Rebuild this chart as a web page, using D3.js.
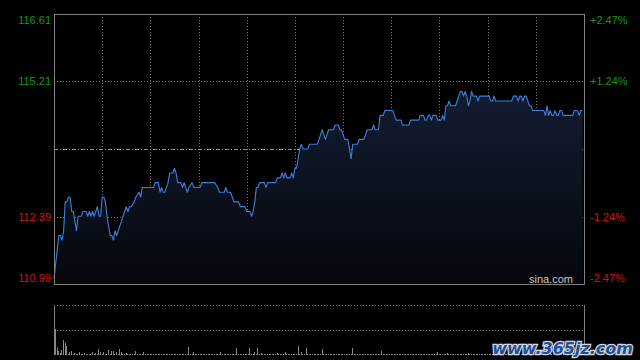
<!DOCTYPE html>
<html><head><meta charset="utf-8">
<script src="https://cdn.jsdelivr.net/npm/d3@7/dist/d3.min.js"></script>
<style>html,body{margin:0;padding:0;background:#000;}svg{display:block;}</style>
</head><body><svg id="c" width="640" height="360"></svg>
<script>
// ---- data (HK intraday, minutes since 09:30, 330 trading minutes) ----
const prevClose = 113.80;
const priceTicks = [116.61, 115.21, 113.80, 112.39, 110.99];
const pctTicks = ["+2.47%", "+1.24%", "", "-1.24%", "-2.47%"];
const minutes = [0,2,3,4,5,6,7,8,9,10,11,12,13,14,15,17,18,20,21,22,23,24,25,26,27,28,29,30,31,32,33,34,35,36,37,38,39,41,42,44,45,46,47,48,50,51,53,54,55,62,63,65,66,67,68,69,71,72,74,75,76,77,79,80,81,83,84,86,87,91,92,100,102,103,106,107,108,110,112,115,116,119,120,122,123,124,125,126,127,128,131,132,133,138,139,141,142,143,144,145,147,148,149,150,151,152,153,154,155,158,159,164,166,167,168,169,170,171,174,175,177,178,179,180,181,183,184,185,186,189,190,193,195,198,199,200,202,203,205,206,211,213,216,217,221,222,227,228,230,231,232,233,234,235,236,238,239,241,242,243,244,245,246,247,250,251,253,254,255,256,257,258,259,260,261,263,264,265,271,272,273,274,275,285,286,288,289,290,291,292,293,294,296,297,298,305,306,307,308,309,310,311,312,313,314,315,316,317,323,324,326,327,328,329];
const prices = [111.1,111.7,112.0,112.0,111.9,112.1,112.7,112.7,112.8,112.8,112.5,112.5,112.3,112.1,112.4,112.4,112.5,112.5,112.4,112.5,112.4,112.5,112.4,112.5,112.6,112.4,112.4,112.8,112.8,112.7,112.4,112.2,112.0,112.0,111.9,112.1,112.0,112.2,112.3,112.5,112.6,112.5,112.6,112.6,112.7,112.8,112.9,112.8,113.0,113.0,113.1,113.1,112.9,113.0,112.9,112.9,113.1,113.3,113.3,113.4,113.3,113.1,113.1,113.0,113.1,112.9,113.0,113.1,113.0,113.0,113.1,113.1,113.0,112.9,112.9,113.0,112.9,112.9,112.7,112.7,112.6,112.6,112.5,112.5,112.4,112.5,112.7,113.0,113.0,113.1,113.1,113.0,113.1,113.1,113.2,113.2,113.3,113.2,113.3,113.2,113.2,113.3,113.2,113.4,113.4,113.6,113.8,113.9,113.8,113.8,113.9,113.9,114.1,114.2,114.1,114.0,114.1,114.2,114.2,114.3,114.3,114.2,114.2,114.1,114.0,114.0,113.8,113.6,113.9,113.9,114.0,114.0,114.2,114.2,114.3,114.2,114.2,114.5,114.5,114.6,114.6,114.4,114.4,114.3,114.3,114.4,114.4,114.5,114.5,114.4,114.4,114.5,114.5,114.4,114.5,114.5,114.4,114.4,114.5,114.4,114.7,114.7,114.8,114.7,114.7,114.8,115.0,115.0,114.9,115.0,114.9,114.7,114.8,115.0,114.9,114.9,114.8,114.9,114.9,114.8,114.8,114.9,114.8,114.8,114.9,114.9,114.8,114.9,114.9,114.8,114.9,114.9,114.7,114.7,114.6,114.6,114.5,114.7,114.5,114.6,114.5,114.5,114.6,114.5,114.5,114.6,114.6,114.5,114.5,114.6,114.6,114.5,114.6,114.6];
// volume per minute (one row per half hour)
const volume = [
  52,15,8,4,10,30,24,18,2,6,8,2,4,2,2,6,2,2,4,2,2,2,2,6,2,4,2,12,6,2,
  6,2,2,10,2,8,8,2,6,2,12,6,2,2,4,2,2,2,2,2,8,2,2,2,2,6,2,2,2,2,
  2,2,2,2,2,2,2,2,2,2,2,2,2,2,2,2,2,2,2,2,2,2,2,16,2,2,6,2,2,2,
  2,2,2,2,2,2,2,2,2,2,2,2,2,6,2,2,2,2,2,2,2,2,2,14,2,2,2,2,2,2,
  2,14,2,2,6,2,14,2,4,2,2,2,2,2,2,2,2,2,4,2,2,2,2,6,2,2,2,2,2,2,
  2,18,2,6,2,2,14,2,2,2,2,2,2,2,2,2,12,2,2,2,2,2,2,2,2,2,2,2,2,2,
  2,2,2,2,2,14,2,2,2,2,2,2,2,2,2,2,2,2,2,2,2,2,2,8,2,2,2,2,2,2,
  2,2,2,2,2,2,2,2,2,2,2,2,2,2,2,2,2,2,2,2,2,2,2,2,2,2,2,2,6,2,
  2,2,2,2,4,2,2,2,2,2,2,2,2,2,2,2,2,4,2,2,2,2,2,2,2,2,2,2,2,2,
  2,2,2,2,2,2,6,2,2,2,2,2,2,2,2,2,2,2,2,2,2,2,2,2,2,2,2,2,2,2,
  2,2,2,2,2,2,2,2,2,2,2,2,2,2,2,2,2,2,2,2,2,2,2,2,2,2,2,2,2,2
];

// ---- layout ----
const svg = d3.select("#c");
const L = 54, R = 584, T = 14, B = 284;
const VT = 305, VB = 355;
const x = d3.scaleLinear().domain([0, 330]).range([L, R]);
const y = d3.scaleLinear().domain([110.99, 116.61]).range([B, T]);
const yv = d3.scaleLinear().domain([0, 100]).range([VB, VT]);

const defs = svg.append("defs");
const grad = defs.append("linearGradient").attr("id","ag").attr("gradientUnits","userSpaceOnUse")
  .attr("x1",0).attr("x2",0).attr("y1",T).attr("y2",B);
grad.append("stop").attr("offset","0%").attr("stop-color","#182541");
grad.append("stop").attr("offset","100%").attr("stop-color","#05070b");

// grid verticals
const gridX = d3.range(30, 330, 30);
svg.append("g").selectAll("line").data(gridX).join("line")
  .attr("x1", d => Math.round(x(d)) + 0.5).attr("x2", d => Math.round(x(d)) + 0.5)
  .attr("y1", T).attr("y2", B)
  .attr("stroke", "#777").attr("stroke-dasharray", "1,2");
// grid horizontals
svg.append("g").selectAll("line").data(priceTicks.slice(1, 4)).join("line")
  .attr("x1", L).attr("x2", R)
  .attr("y1", d => Math.round(y(d)) + 0.5).attr("y2", d => Math.round(y(d)) + 0.5)
  .attr("stroke", d => d === prevClose ? "#999" : "#777")
  .attr("stroke-dasharray", d => d === prevClose ? "4,2,1,2" : "1,2");

const pts = minutes.map((m, i) => [m, prices[i]]);
svg.append("path").datum(pts)
  .attr("d", d3.area().x(d => x(d[0])).y0(B).y1(d => y(d[1])))
  .attr("fill", "url(#ag)");
svg.append("path").datum(pts)
  .attr("d", d3.line().x(d => x(d[0])).y(d => y(d[1])))
  .attr("fill", "none").attr("stroke", "#3f7fdc").attr("stroke-width", 1.1)
  .attr("stroke-linejoin", "round");

// frame
svg.append("rect").attr("x", L + 0.5).attr("y", T + 0.5).attr("width", R - L).attr("height", B - T)
  .attr("fill", "none").attr("stroke", "#808080");

// labels
const font = "'Liberation Sans', Arial, sans-serif";
const baseShift = (i) => i === 0 ? 10 : (i === priceTicks.length - 1 ? -2 : 4);
svg.append("g").selectAll("text").data(priceTicks).join("text")
  .filter(d => d !== prevClose)
  .attr("x", L - 3).attr("y", (d) => y(d) + baseShift(priceTicks.indexOf(d)))
  .attr("text-anchor", "end").attr("font-family", font).attr("font-size", 11)
  .attr("fill", d => d > prevClose ? "#129a12" : "#d4150f")
  .text(d => d.toFixed(2));
svg.append("g").selectAll("text").data(pctTicks).join("text")
  .filter(d => d !== "")
  .attr("x", R + 6).attr("y", (d) => y(priceTicks[pctTicks.indexOf(d)]) + baseShift(pctTicks.indexOf(d)))
  .attr("font-family", font).attr("font-size", 11)
  .attr("fill", d => d[0] === "+" ? "#129a12" : "#d4150f")
  .text(d => d);

svg.append("text").attr("x", 573).attr("y", 283).attr("text-anchor", "end")
  .attr("font-family", font).attr("font-size", 11).attr("fill", "#c8c8c8").text("sina.com");

// volume panel
svg.append("g").selectAll("line").data([100, 50]).join("line")
  .attr("x1", L).attr("x2", R)
  .attr("y1", d => Math.round(yv(d)) + 0.5).attr("y2", d => Math.round(yv(d)) + 0.5)
  .attr("stroke", "#777").attr("stroke-dasharray", "1,2");
svg.append("line").attr("x1", L + 0.5).attr("x2", L + 0.5).attr("y1", VT).attr("y2", VB).attr("stroke", "#808080");
svg.append("line").attr("x1", R + 0.5).attr("x2", R + 0.5).attr("y1", VT).attr("y2", VB).attr("stroke", "#808080");
svg.append("g").selectAll("rect").data(volume).join("rect")
  .attr("x", (d, i) => Math.round(x(i)) + 1).attr("width", 1)
  .attr("y", d => yv(d)).attr("height", d => VB - yv(d))
  .attr("fill", "#8a8a8a");

// watermark
svg.append("text").attr("x", 633).attr("y", 354).attr("text-anchor", "end")
  .attr("font-family", "'DejaVu Sans', sans-serif").attr("font-size", 16).attr("font-weight", "bold").attr("font-style", "italic")
  .attr("fill", "#1f4f96").attr("stroke", "#cfd8e4").attr("stroke-width", 2.5).attr("paint-order", "stroke")
  .text("www.365jz.com");
</script></body></html>
